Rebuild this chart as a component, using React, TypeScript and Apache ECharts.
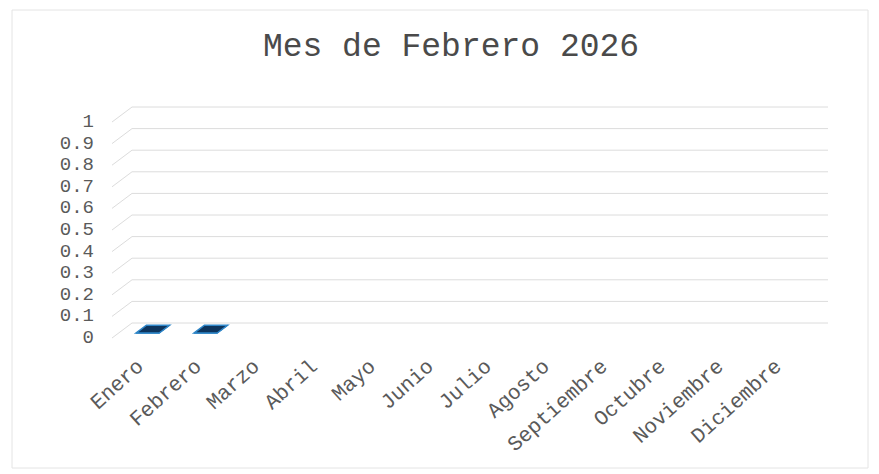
import React, { useEffect, useRef } from "react";
import * as echarts from "echarts";

const categories = [
  "Enero", "Febrero", "Marzo", "Abril", "Mayo", "Junio",
  "Julio", "Agosto", "Septiembre", "Octubre", "Noviembre", "Diciembre",
];
const values: (number | null)[] = [0, 0, null, null, null, null, null, null, null, null, null, null];
const yTicks = [0, 0.1, 0.2, 0.3, 0.4, 0.5, 0.6, 0.7, 0.8, 0.9, 1];
const titleText = "Mes de Febrero 2026";

const DX = 20;
const DY = -15;
const FONT = "'Liberation Mono', 'Courier New', monospace";

export default function App() {
  const ref = useRef<HTMLDivElement>(null);
  useEffect(() => {
    if (!ref.current) return;
    const chart = echarts.init(ref.current, undefined, { renderer: "svg" });
    const barData = values
      .map((v, i) => (v === null ? null : [i, v]))
      .filter((d) => d !== null);
    chart.setOption({
      animation: false,
      backgroundColor: "#ffffff",
      title: {
        text: titleText,
        left: 446,
        textAlign: "center",
        top: 26,
        textStyle: { fontFamily: FONT, fontSize: 33, fontWeight: "normal", color: "#4a4a4a" },
      },
      graphic: [
        {
          type: "rect",
          shape: { x: 12, y: 10, width: 856, height: 458 },
          style: { fill: "none", stroke: "#e4e4e4", lineWidth: 1 },
          silent: true,
          z: -10,
        },
      ],
      grid: { left: 112, right: 71, top: 122, bottom: 136 },
      xAxis: {
        type: "category",
        data: categories,
        axisLine: { show: false },
        axisTick: { show: false },
        splitLine: { show: false },
        axisLabel: {
          interval: 0,
          rotate: 42,
          margin: 26,
          fontFamily: FONT,
          fontSize: 21,
          color: "#5a5a5a",
        },
      },
      yAxis: {
        type: "value",
        min: 0,
        max: 1,
        interval: 0.1,
        axisLine: { show: false },
        axisTick: { show: false },
        splitLine: { show: false },
        axisLabel: {
          margin: 18,
          fontFamily: FONT,
          fontSize: 19,
          color: "#5a5a5a",
        },
      },
      series: [
        {
          type: "custom",
          clip: false,
          silent: true,
          z: 1,
          data: yTicks.map((v) => [0, v]),
          encode: { x: 0, y: 1 },
          renderItem: (params: any, api: any) => {
            const v = api.value(1);
            const p = api.coord([0, v]);
            const cs = params.coordSys;
            const x0 = cs.x;
            const x1 = cs.x + cs.width;
            const y = p[1];
            return {
              type: "polyline",
              shape: {
                points: [
                  [x0, y],
                  [x0 + DX, y + DY],
                  [x1 + DX, y + DY],
                ],
              },
              style: { stroke: "#dcdcdc", lineWidth: 1, fill: "none" },
            };
          },
        },
        {
          type: "custom",
          clip: false,
          z: 5,
          data: barData,
          encode: { x: 0, y: 1 },
          renderItem: (params: any, api: any) => {
            const i = api.value(0);
            const v = api.value(1);
            const base = api.coord([i, 0]);
            const top = api.coord([i, v]);
            const w = api.size([1, 0])[0] * 0.4;
            const f1 = 0.33;
            const f2 = 0.85;
            const fx = DX * f1, fy = DY * f1;
            const bx = DX * f2, by = DY * f2;
            const xl = base[0] - w / 2;
            const xr = base[0] + w / 2;
            const yb = base[1];
            const yt = top[1];
            const stroke = "#2f86c8";
            const children: any[] = [
              {
                type: "polygon",
                shape: {
                  points: [
                    [xl + fx, yb + fy], [xr + fx, yb + fy], [xr + fx, yt + fy], [xl + fx, yt + fy],
                  ],
                },
                style: { fill: "#124272", stroke, lineWidth: 1 },
              },
              {
                type: "polygon",
                shape: {
                  points: [
                    [xr + fx, yb + fy], [xr + bx, yb + by], [xr + bx, yt + by], [xr + fx, yt + fy],
                  ],
                },
                style: { fill: "#0c2f55", stroke, lineWidth: 1 },
              },
              {
                type: "polygon",
                shape: {
                  points: [
                    [xl + fx, yt + fy], [xr + fx, yt + fy], [xr + bx, yt + by], [xl + bx, yt + by],
                  ],
                },
                style: { fill: "#0d355e", stroke, lineWidth: 1.5 },
              },
            ];
            return { type: "group", children };
          },
        },
      ],
    });
    return () => chart.dispose();
  }, []);
  return (
    <div
      ref={ref}
      style={{ position: "fixed", left: 0, top: 0, width: 879, height: 474 }}
    />
  );
}
